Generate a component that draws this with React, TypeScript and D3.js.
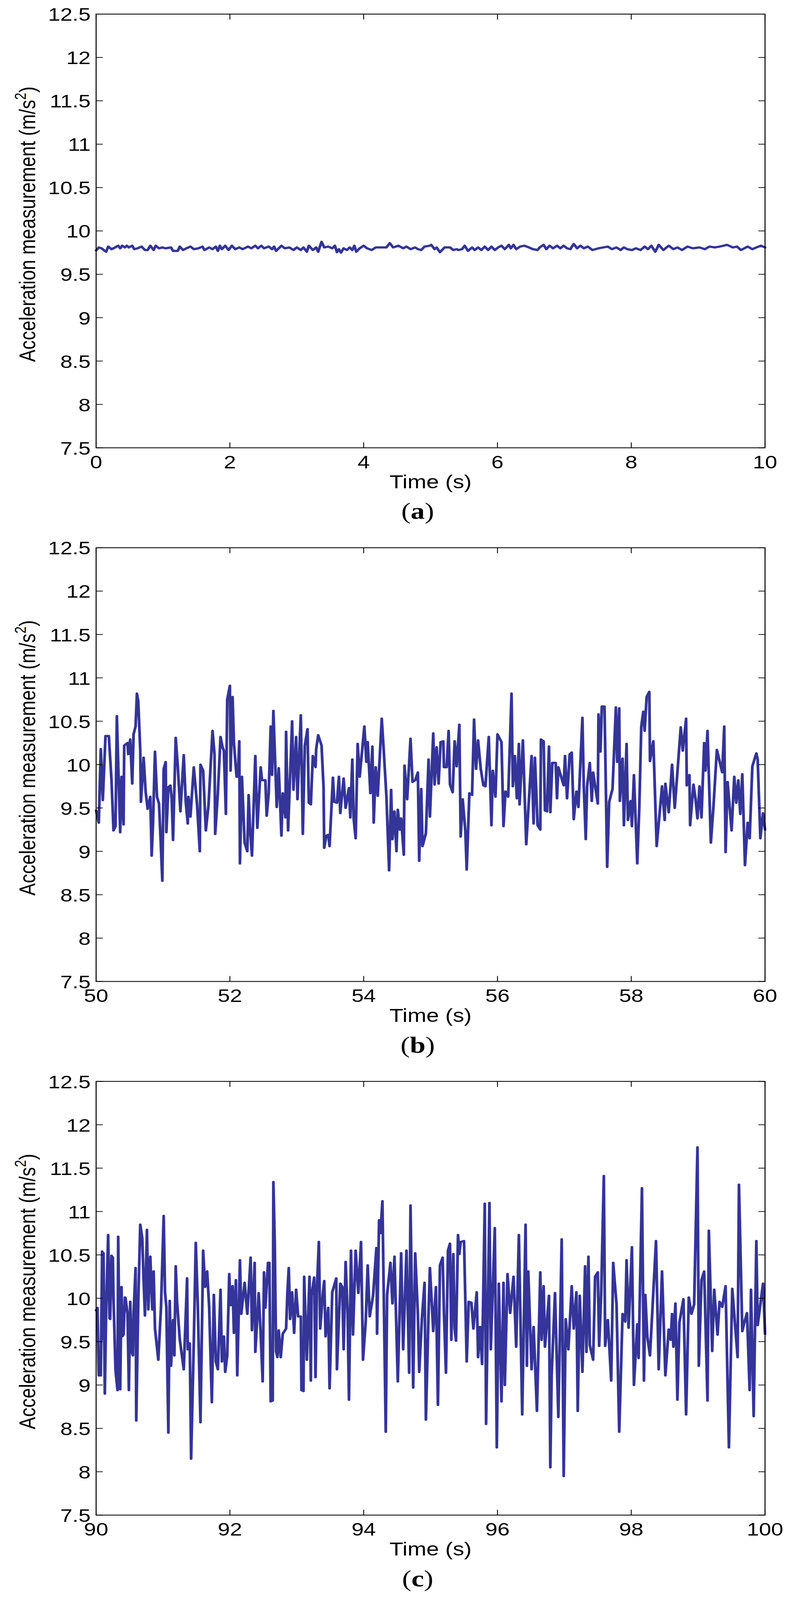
import { useEffect } from 'react';
import * as d3 from 'd3';

type Sample = [number, number];

// Sample [time (s), acceleration (m/s^2)]
const restSamples: Sample[] = [
  [0.00, 9.776], [0.04, 9.81], [0.08, 9.80], [0.15, 9.76], [0.18, 9.82], [0.23, 9.79], [0.26, 9.80],
  [0.33, 9.83], [0.36, 9.80], [0.39, 9.83], [0.43, 9.81], [0.46, 9.83], [0.49, 9.81], [0.54, 9.83],
  [0.57, 9.79], [0.62, 9.80], [0.68, 9.82], [0.73, 9.78], [0.77, 9.78], [0.81, 9.83], [0.86, 9.78],
  [0.89, 9.83], [0.94, 9.80], [0.99, 9.81], [1.04, 9.80], [1.12, 9.81], [1.15, 9.77], [1.22, 9.77],
  [1.25, 9.82], [1.30, 9.78], [1.35, 9.80], [1.41, 9.82], [1.46, 9.79], [1.53, 9.80], [1.59, 9.82],
  [1.62, 9.78], [1.69, 9.81], [1.74, 9.79], [1.79, 9.82], [1.82, 9.77], [1.85, 9.83], [1.88, 9.79],
  [1.93, 9.83], [1.98, 9.78], [2.03, 9.83], [2.08, 9.79], [2.14, 9.81], [2.19, 9.79], [2.27, 9.82],
  [2.32, 9.80], [2.38, 9.83], [2.42, 9.80], [2.47, 9.83], [2.51, 9.80], [2.58, 9.82], [2.63, 9.79],
  [2.66, 9.82], [2.69, 9.77], [2.77, 9.83], [2.82, 9.80], [2.89, 9.81], [2.95, 9.78], [3.00, 9.81],
  [3.06, 9.78], [3.10, 9.81], [3.15, 9.76], [3.18, 9.83], [3.24, 9.78], [3.29, 9.81], [3.32, 9.76],
  [3.37, 9.875], [3.41, 9.81], [3.47, 9.82], [3.53, 9.80], [3.57, 9.83], [3.60, 9.755], [3.63, 9.79],
  [3.66, 9.75], [3.70, 9.80], [3.75, 9.78], [3.79, 9.81], [3.83, 9.78], [3.86, 9.83], [3.89, 9.76],
  [3.94, 9.80], [4.00, 9.83], [4.05, 9.80], [4.12, 9.78], [4.18, 9.81], [4.34, 9.81], [4.39, 9.86],
  [4.44, 9.81], [4.52, 9.83], [4.59, 9.80], [4.64, 9.82], [4.70, 9.79], [4.77, 9.81], [4.81, 9.79],
  [4.86, 9.78], [4.91, 9.82], [4.99, 9.83], [5.01, 9.84], [5.06, 9.79], [5.09, 9.81], [5.14, 9.755],
  [5.21, 9.81], [5.29, 9.81], [5.34, 9.78], [5.39, 9.79], [5.42, 9.78], [5.47, 9.79], [5.51, 9.83],
  [5.56, 9.77], [5.62, 9.81], [5.66, 9.78], [5.71, 9.81], [5.76, 9.78], [5.81, 9.82], [5.86, 9.78],
  [5.91, 9.82], [5.96, 9.78], [6.01, 9.81], [6.06, 9.83], [6.11, 9.79], [6.17, 9.84], [6.20, 9.80],
  [6.24, 9.84], [6.28, 9.79], [6.34, 9.82], [6.40, 9.83], [6.47, 9.81], [6.53, 9.79], [6.60, 9.78],
  [6.63, 9.81], [6.69, 9.84], [6.73, 9.79], [6.78, 9.83], [6.83, 9.80], [6.89, 9.83], [6.94, 9.80],
  [6.99, 9.83], [7.04, 9.80], [7.09, 9.79], [7.14, 9.85], [7.19, 9.80], [7.24, 9.83], [7.29, 9.80],
  [7.35, 9.82], [7.42, 9.78], [7.51, 9.80], [7.58, 9.81], [7.65, 9.82], [7.71, 9.79], [7.78, 9.81],
  [7.84, 9.78], [7.89, 9.81], [7.94, 9.79], [8.01, 9.78], [8.07, 9.80], [8.14, 9.78], [8.20, 9.82],
  [8.25, 9.79], [8.30, 9.83], [8.36, 9.76], [8.41, 9.84], [8.48, 9.78], [8.56, 9.83], [8.63, 9.79],
  [8.69, 9.81], [8.76, 9.78], [8.84, 9.82], [8.92, 9.80], [9.02, 9.81], [9.10, 9.79], [9.17, 9.82],
  [9.25, 9.81], [9.32, 9.82], [9.38, 9.83], [9.43, 9.84], [9.52, 9.81], [9.58, 9.82], [9.64, 9.78],
  [9.74, 9.82], [9.81, 9.79], [9.87, 9.81], [9.94, 9.83], [10.00, 9.81],
];

const walkSamples: Sample[] = [
  [50.00, 9.47], [50.04, 9.33], [50.07, 10.18], [50.10, 9.59], [50.14, 10.33], [50.19, 10.33],
  [50.23, 9.82], [50.26, 9.24], [50.29, 9.29], [50.31, 10.56], [50.34, 9.74], [50.36, 9.22],
  [50.38, 9.86], [50.41, 9.31], [50.42, 10.22], [50.47, 10.25], [50.48, 10.12], [50.51, 10.29],
  [50.54, 9.78], [50.56, 10.35], [50.59, 10.44], [50.61, 10.82], [50.63, 10.73], [50.66, 10.16],
  [50.67, 9.57], [50.69, 9.82], [50.71, 10.08], [50.74, 9.69], [50.77, 9.49], [50.81, 9.63],
  [50.83, 8.95], [50.85, 9.31], [50.88, 10.15], [50.91, 9.63], [50.94, 9.55], [50.96, 9.21],
  [50.99, 8.66], [51.01, 9.95], [51.04, 10.03], [51.05, 9.22], [51.08, 9.74], [51.11, 9.76],
  [51.13, 9.61], [51.15, 9.13], [51.19, 10.31], [51.22, 9.99], [51.26, 9.46], [51.31, 10.11],
  [51.34, 9.57], [51.37, 9.32], [51.38, 9.63], [51.41, 9.40], [51.46, 9.97], [51.51, 9.53],
  [51.55, 9.00], [51.56, 10.00], [51.60, 9.93], [51.64, 9.24], [51.68, 9.53], [51.74, 10.39],
  [51.77, 10.12], [51.78, 9.20], [51.82, 9.67], [51.86, 10.32], [51.89, 10.20], [51.91, 10.16],
  [51.94, 9.43], [51.96, 10.75], [52.00, 10.91], [52.01, 9.93], [52.04, 10.78], [52.06, 10.25],
  [52.10, 9.86], [52.12, 9.86], [52.14, 10.27], [52.15, 8.86], [52.18, 9.86], [52.22, 9.10],
  [52.26, 9.00], [52.28, 9.65], [52.30, 9.27], [52.33, 8.95], [52.38, 10.10], [52.41, 9.27],
  [52.46, 9.97], [52.48, 9.82], [52.53, 9.82], [52.55, 9.41], [52.58, 9.67], [52.61, 10.44],
  [52.63, 9.88], [52.65, 10.62], [52.70, 9.51], [52.73, 9.96], [52.77, 9.18], [52.79, 9.67],
  [52.83, 9.39], [52.84, 10.38], [52.87, 9.24], [52.93, 10.50], [52.95, 9.71], [52.99, 10.32],
  [53.01, 9.60], [53.06, 10.57], [53.09, 9.20], [53.12, 10.22], [53.16, 10.41], [53.18, 9.56],
  [53.21, 9.54], [53.24, 10.10], [53.28, 9.97], [53.29, 10.18], [53.32, 10.34], [53.37, 10.22],
  [53.40, 9.74], [53.41, 9.04], [53.44, 9.18], [53.47, 9.19], [53.49, 9.06], [53.54, 9.85],
  [53.56, 9.57], [53.60, 9.56], [53.63, 9.86], [53.65, 9.44], [53.70, 9.84], [53.73, 9.50],
  [53.78, 9.73], [53.80, 9.39], [53.83, 10.06], [53.85, 9.38], [53.88, 9.15], [53.91, 10.24],
  [53.94, 9.86], [54.01, 10.44], [54.04, 10.03], [54.06, 10.26], [54.10, 9.67], [54.13, 10.21],
  [54.15, 9.33], [54.18, 9.97], [54.21, 9.64], [54.27, 10.53], [54.30, 10.16], [54.34, 9.63],
  [54.38, 8.78], [54.41, 9.71], [54.43, 9.14], [54.46, 9.46], [54.49, 9.00], [54.51, 9.48],
  [54.54, 9.25], [54.56, 9.38], [54.60, 8.96], [54.61, 9.99], [54.65, 9.60], [54.70, 10.30],
  [54.73, 9.80], [54.77, 9.82], [54.81, 9.91], [54.83, 8.89], [54.86, 9.72], [54.88, 9.06],
  [54.93, 9.21], [54.97, 10.06], [54.99, 9.40], [55.04, 10.36], [55.06, 9.77], [55.09, 10.20],
  [55.12, 9.78], [55.15, 10.26], [55.19, 10.27], [55.20, 9.97], [55.24, 9.97], [55.27, 10.39],
  [55.29, 9.77], [55.33, 9.68], [55.36, 10.27], [55.39, 9.98], [55.43, 10.46], [55.45, 9.17],
  [55.48, 9.60], [55.52, 9.23], [55.54, 8.79], [55.58, 9.67], [55.62, 9.65], [55.65, 10.52],
  [55.68, 9.95], [55.71, 10.28], [55.75, 9.95], [55.79, 9.76], [55.82, 9.75], [55.87, 10.32],
  [55.91, 9.30], [55.93, 9.93], [55.97, 9.63], [56.00, 10.35], [56.06, 10.26], [56.09, 9.29],
  [56.12, 9.69], [56.16, 9.63], [56.21, 10.82], [56.23, 9.75], [56.26, 10.10], [56.29, 9.61],
  [56.32, 10.24], [56.33, 9.54], [56.38, 10.28], [56.43, 9.08], [56.51, 10.10], [56.54, 9.32],
  [56.56, 10.08], [56.60, 9.30], [56.64, 9.25], [56.65, 10.29], [56.69, 10.27], [56.71, 9.47],
  [56.74, 9.46], [56.77, 10.21], [56.79, 9.45], [56.82, 10.02], [56.87, 10.02], [56.89, 9.61],
  [56.91, 9.97], [56.99, 9.76], [57.01, 10.10], [57.04, 9.61], [57.08, 10.12], [57.11, 10.14],
  [57.14, 9.37], [57.18, 9.69], [57.21, 9.51], [57.27, 10.54], [57.29, 9.76], [57.32, 9.14],
  [57.34, 9.75], [57.38, 10.02], [57.41, 9.58], [57.43, 9.91], [57.50, 9.55], [57.51, 10.58],
  [57.54, 10.15], [57.56, 10.67], [57.60, 10.67], [57.64, 8.82], [57.67, 9.57], [57.72, 9.72],
  [57.77, 10.66], [57.79, 10.03], [57.82, 10.65], [57.83, 9.58], [57.87, 10.07], [57.89, 9.30],
  [57.93, 10.24], [57.95, 9.36], [57.99, 9.58], [58.01, 9.29], [58.04, 9.88], [58.09, 8.86],
  [58.12, 9.50], [58.15, 10.44], [58.18, 10.61], [58.20, 10.39], [58.23, 10.78], [58.27, 10.84],
  [58.28, 10.04], [58.33, 10.27], [58.38, 9.06], [58.46, 9.75], [58.50, 9.36], [58.51, 9.78],
  [58.56, 9.45], [58.61, 10.00], [58.65, 9.50], [58.74, 10.43], [58.77, 10.16], [58.82, 10.53],
  [58.83, 9.76], [58.87, 9.88], [58.88, 9.30], [58.93, 9.77], [58.96, 9.61], [58.99, 9.38],
  [59.02, 9.75], [59.05, 9.39], [59.09, 10.25], [59.11, 9.93], [59.14, 10.39], [59.19, 9.10],
  [59.23, 9.53], [59.28, 10.17], [59.36, 9.91], [59.39, 10.44], [59.41, 8.99], [59.44, 9.80],
  [59.50, 9.24], [59.54, 9.86], [59.57, 9.56], [59.60, 9.82], [59.63, 9.43], [59.66, 9.89],
  [59.70, 8.84], [59.74, 9.33], [59.77, 9.15], [59.81, 9.98], [59.87, 10.13], [59.89, 10.06],
  [59.93, 9.15], [59.97, 9.44], [60.00, 9.25],
];

const runSamples: Sample[] = [
  [90.00, 9.86], [90.02, 9.89], [90.04, 9.11], [90.07, 9.11], [90.09, 10.54], [90.10, 9.53],
  [90.11, 10.52], [90.13, 8.90], [90.15, 9.87], [90.18, 10.73], [90.20, 9.77], [90.21, 9.76],
  [90.23, 10.49], [90.25, 10.47], [90.26, 9.99], [90.29, 9.17], [90.32, 8.94], [90.33, 10.71],
  [90.34, 10.07], [90.36, 8.95], [90.38, 10.13], [90.39, 9.56], [90.41, 9.58], [90.43, 10.01],
  [90.44, 10.00], [90.47, 9.82], [90.49, 8.94], [90.51, 9.96], [90.53, 9.39], [90.55, 9.34],
  [90.56, 9.82], [90.59, 10.35], [90.60, 8.59], [90.63, 9.96], [90.66, 10.85], [90.69, 10.69],
  [90.71, 10.21], [90.73, 9.80], [90.76, 10.79], [90.78, 9.87], [90.81, 10.48], [90.84, 9.87],
  [90.86, 10.31], [90.88, 9.65], [90.93, 9.29], [90.97, 9.90], [91.01, 10.95], [91.03, 10.07],
  [91.05, 9.90], [91.08, 8.45], [91.10, 9.97], [91.12, 9.22], [91.15, 9.75], [91.17, 9.34],
  [91.19, 10.37], [91.21, 9.96], [91.25, 9.53], [91.31, 9.18], [91.36, 10.23], [91.37, 9.41],
  [91.40, 9.48], [91.42, 8.15], [91.46, 9.49], [91.49, 10.64], [91.52, 9.92], [91.56, 8.57],
  [91.60, 10.55], [91.63, 10.13], [91.66, 10.31], [91.69, 9.90], [91.73, 8.80], [91.76, 10.04],
  [91.79, 9.27], [91.82, 9.18], [91.86, 10.10], [91.88, 9.27], [91.91, 9.56], [91.93, 9.15],
  [91.96, 9.34], [91.99, 10.28], [92.01, 9.92], [92.04, 10.14], [92.06, 9.60], [92.09, 10.21],
  [92.11, 9.11], [92.15, 10.44], [92.17, 9.82], [92.22, 10.18], [92.26, 9.82], [92.31, 10.47],
  [92.33, 9.63], [92.37, 10.41], [92.38, 9.38], [92.43, 10.06], [92.46, 9.59], [92.49, 9.04],
  [92.51, 10.30], [92.53, 9.89], [92.57, 10.41], [92.59, 10.41], [92.61, 8.81], [92.64, 8.82],
  [92.65, 11.34], [92.67, 10.66], [92.69, 9.39], [92.71, 9.32], [92.73, 9.63], [92.76, 9.32],
  [92.79, 9.59], [92.84, 9.65], [92.86, 10.07], [92.88, 10.35], [92.90, 9.76], [92.93, 10.07],
  [92.96, 9.60], [92.99, 10.10], [93.02, 9.79], [93.06, 9.79], [93.07, 8.94], [93.10, 8.93],
  [93.11, 10.25], [93.15, 9.29], [93.19, 10.25], [93.21, 9.05], [93.22, 10.03], [93.26, 10.24],
  [93.28, 9.09], [93.30, 10.10], [93.33, 10.65], [93.35, 9.65], [93.39, 10.06], [93.41, 10.20],
  [93.43, 9.56], [93.47, 9.89], [93.49, 8.96], [93.53, 10.07], [93.59, 10.23], [93.60, 9.18],
  [93.65, 10.17], [93.68, 10.13], [93.70, 9.41], [93.73, 10.42], [93.76, 9.82], [93.78, 8.83],
  [93.81, 10.55], [93.84, 9.58], [93.88, 10.55], [93.92, 10.06], [93.96, 10.65], [93.99, 9.29],
  [94.03, 9.73], [94.06, 10.38], [94.09, 9.79], [94.14, 10.03], [94.19, 10.58], [94.20, 9.59],
  [94.23, 10.90], [94.25, 10.75], [94.28, 11.12], [94.30, 10.04], [94.33, 8.46], [94.35, 10.04],
  [94.40, 10.41], [94.43, 9.94], [94.46, 10.48], [94.51, 9.04], [94.56, 10.52], [94.59, 9.41],
  [94.64, 10.55], [94.68, 9.14], [94.70, 11.07], [94.74, 8.97], [94.77, 10.52], [94.81, 9.82],
  [94.83, 9.15], [94.87, 9.76], [94.91, 10.18], [94.93, 8.60], [94.97, 9.84], [94.99, 10.35],
  [95.04, 9.62], [95.08, 10.13], [95.11, 8.77], [95.14, 10.38], [95.18, 10.47], [95.20, 9.84],
  [95.23, 9.14], [95.26, 10.55], [95.29, 10.63], [95.31, 9.52], [95.34, 10.51], [95.36, 9.65],
  [95.38, 9.51], [95.41, 10.73], [95.43, 10.51], [95.45, 10.65], [95.50, 10.66], [95.54, 9.27],
  [95.57, 9.96], [95.61, 9.95], [95.64, 9.65], [95.69, 10.07], [95.71, 9.32], [95.74, 9.67],
  [95.77, 9.24], [95.81, 11.09], [95.83, 8.55], [95.88, 11.10], [95.90, 9.41], [95.96, 10.81],
  [95.99, 8.28], [96.02, 10.17], [96.06, 8.81], [96.09, 10.18], [96.11, 9.00], [96.15, 10.28],
  [96.19, 9.83], [96.24, 10.25], [96.28, 9.44], [96.32, 10.73], [96.37, 8.66], [96.42, 10.85],
  [96.44, 9.22], [96.46, 10.31], [96.51, 9.18], [96.54, 9.67], [96.59, 8.70], [96.64, 10.30],
  [96.66, 9.52], [96.69, 10.14], [96.71, 9.44], [96.77, 10.03], [96.79, 8.05], [96.81, 9.12],
  [96.86, 10.06], [96.91, 8.63], [96.96, 10.68], [96.99, 7.95], [97.02, 9.76], [97.06, 9.41],
  [97.11, 10.14], [97.14, 9.65], [97.18, 10.07], [97.20, 8.70], [97.23, 10.03], [97.27, 9.15],
  [97.31, 10.37], [97.33, 9.38], [97.36, 10.48], [97.38, 9.46], [97.43, 9.29], [97.46, 10.25],
  [97.50, 10.30], [97.52, 9.45], [97.55, 10.04], [97.59, 11.41], [97.61, 9.45], [97.65, 9.75],
  [97.70, 9.05], [97.73, 10.41], [97.78, 9.93], [97.82, 8.46], [97.87, 9.82], [97.91, 9.73],
  [97.93, 10.44], [97.96, 9.66], [98.01, 10.59], [98.04, 9.00], [98.09, 9.70], [98.11, 9.31],
  [98.16, 11.27], [98.19, 9.05], [98.21, 10.04], [98.24, 9.56], [98.28, 9.34], [98.37, 10.66],
  [98.41, 9.18], [98.46, 10.31], [98.51, 9.11], [98.56, 9.64], [98.59, 9.52], [98.61, 9.82],
  [98.63, 9.44], [98.66, 9.94], [98.69, 8.83], [98.72, 9.72], [98.78, 9.99], [98.82, 8.66],
  [98.86, 10.01], [98.90, 9.82], [98.94, 9.93], [98.99, 11.74], [99.01, 9.22], [99.05, 10.21],
  [99.09, 10.31], [99.14, 8.82], [99.16, 10.78], [99.21, 9.39], [99.24, 10.10], [99.29, 9.58],
  [99.32, 9.96], [99.36, 9.90], [99.41, 10.14], [99.46, 8.28], [99.51, 10.11], [99.59, 9.32],
  [99.61, 11.31], [99.66, 9.62], [99.69, 9.72], [99.73, 9.83], [99.77, 8.94], [99.79, 10.10],
  [99.83, 8.64], [99.87, 10.66], [99.89, 9.69], [99.97, 10.17], [100.00, 9.59],
];

const panelSeries = [restSamples, walkSamples, runSamples];
const panelLetters = ['a', 'b', 'c'];
const panelXDomains: [number, number][] = [[0, 10], [50, 60], [90, 100]];
const panelXTicks = [
  [0, 2, 4, 6, 8, 10],
  [50, 52, 54, 56, 58, 60],
  [90, 92, 94, 96, 98, 100],
];
const yTicks = [7.5, 8, 8.5, 9, 9.5, 10, 10.5, 11, 11.5, 12, 12.5];
const yDomain: [number, number] = [7.5, 12.5];

const WIDTH = 2027;
const HEIGHT = 4995;
const PANEL_STEP = 1666;
const plot = { left: 246, right: 1958, top: 44, bottom: 1398 };
const TICK_LEN = 17;
const LINE_COLOR = '#343499';
const SANS = '"Liberation Sans", Arial, Helvetica, sans-serif';
const SERIF = '"Liberation Serif", "Times New Roman", serif';

// drop the default body margin so the svg sits at the page origin
if (typeof document !== 'undefined') {
  document.body.style.margin = '0';
}

// the browser may cap the window below the figure height, so the whole
// figure is fitted into whatever height the viewport really has
const viewportHeight = typeof window !== 'undefined' && window.innerHeight > 0
  ? Math.min(HEIGHT, window.innerHeight)
  : HEIGHT;

interface PanelProps {
  index: number;
}

const Panel = ({ index }: PanelProps) => {
  const x = d3.scaleLinear().domain(panelXDomains[index]).range([plot.left, plot.right]);
  const y = d3.scaleLinear().domain(yDomain).range([plot.bottom, plot.top]);

  const line = d3.line<Sample>()
    .x(d => x(d[0]))
    .y(d => y(d[1]));

  const midX = (plot.left + plot.right) / 2;

  return (
    <g transform={`translate(0, ${index * PANEL_STEP})`}>
      {/* data trace */}
      <path
        d={line(panelSeries[index]) ?? ''}
        fill="none"
        stroke={LINE_COLOR}
        strokeWidth={7}
        strokeLinejoin="round"
        strokeLinecap="round"
      />

      {/* box */}
      <rect
        x={plot.left}
        y={plot.top}
        width={plot.right - plot.left}
        height={plot.bottom - plot.top}
        fill="none"
        stroke="#000"
        strokeWidth={2.6}
      />

      {/* y ticks, both sides, pointing inward */}
      {yTicks.map(t => (
        <g key={`y${t}`}>
          <line x1={plot.left} x2={plot.left + TICK_LEN} y1={y(t)} y2={y(t)} stroke="#000" strokeWidth={2.2} />
          <line x1={plot.right} x2={plot.right - TICK_LEN} y1={y(t)} y2={y(t)} stroke="#000" strokeWidth={2.2} />
          <text x={232} y={y(t) + 21} textAnchor="end" fontFamily={SANS} fontSize={56} fill="#000">
            {String(t)}
          </text>
        </g>
      ))}

      {/* x ticks, top and bottom */}
      {panelXTicks[index].map(t => (
        <g key={`x${t}`}>
          <line x1={x(t)} x2={x(t)} y1={plot.bottom} y2={plot.bottom - TICK_LEN} stroke="#000" strokeWidth={2.2} />
          <line x1={x(t)} x2={x(t)} y1={plot.top} y2={plot.top + TICK_LEN} stroke="#000" strokeWidth={2.2} />
          <text x={x(t)} y={plot.bottom + 64} textAnchor="middle" fontFamily={SANS} fontSize={56} fill="#000">
            {String(t)}
          </text>
        </g>
      ))}

      <text x={midX} y={plot.bottom + 126} textAnchor="middle" fontFamily={SANS} fontSize={58} fill="#000">
        Time (s)
      </text>

      <text
        transform="translate(90, 700) rotate(-90)"
        textAnchor="middle"
        fontFamily={SANS}
        fontSize={58}
        fill="#000"
      >
        Acceleration measurement (m/s
        <tspan dy={-24} fontSize={40}>2</tspan>
        <tspan dy={24}>)</tspan>
      </text>

      <text x={1069} y={plot.bottom + 222} textAnchor="middle" fontFamily={SERIF} fontSize={72} fill="#000">
        (<tspan fontWeight="bold">{panelLetters[index]}</tspan>)
      </text>
    </g>
  );
};

export default function App() {
  useEffect(() => {
    document.body.style.margin = '0';
  }, []);

  return (
    <svg
      width={WIDTH}
      height={viewportHeight}
      viewBox={`0 0 ${WIDTH} ${HEIGHT}`}
      preserveAspectRatio="none"
      style={{ display: 'block', background: '#fff' }}
    >
      <rect x={0} y={0} width={WIDTH} height={HEIGHT} fill="#fff" />
      {panelSeries.map((_, i) => (
        <Panel key={panelLetters[i]} index={i} />
      ))}
    </svg>
  );
}
